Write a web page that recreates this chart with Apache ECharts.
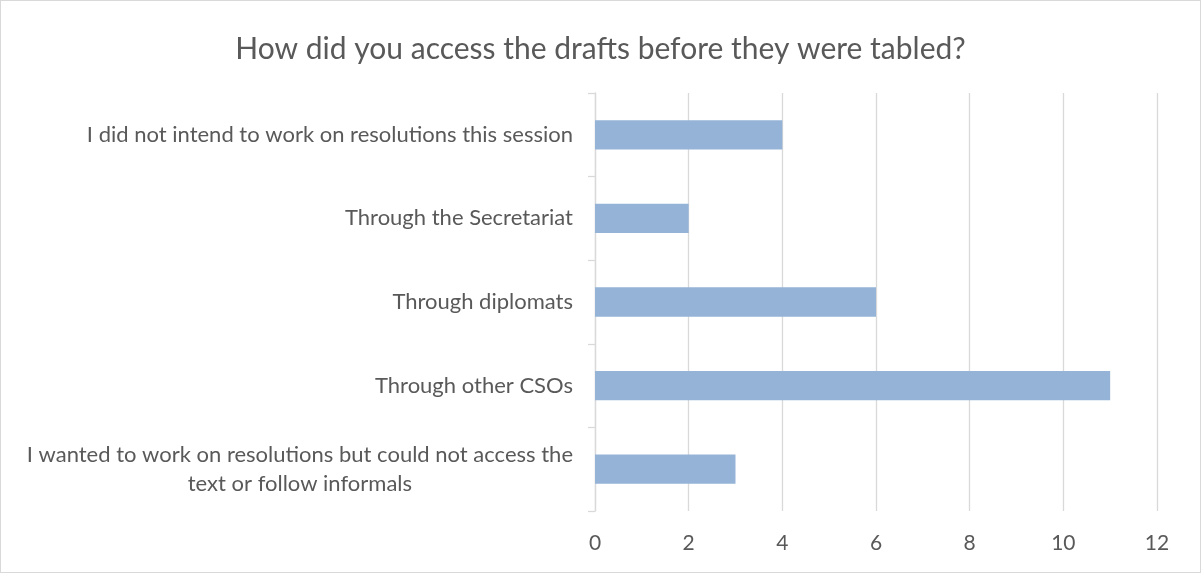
<!DOCTYPE html>
<html><head><meta charset="utf-8">
<script src="https://cdn.jsdelivr.net/npm/echarts@6/dist/echarts.min.js"></script>
<style>html,body{margin:0;padding:0;background:#fff}#c{width:1201px;height:573px;box-sizing:border-box;border:1px solid #d9d9d9}</style>
</head><body><div id="c"></div>
<script>
const title = "How did you access the drafts before they were tabled?";
const categories = [
  "I did not intend to work on resolutions this session",
  "Through the Secretariat",
  "Through diplomats",
  "Through other CSOs",
  "I wanted to work on resolutions but could not access the\ntext or follow informals"
];
const values = [4, 2, 6, 11, 3];
const axisMin = 0, axisMax = 12, axisStep = 2;

const font = "Lato, 'Open Sans', sans-serif";
const chart = echarts.init(document.getElementById('c'), null, {renderer: 'canvas'});
chart.setOption({
  animation: false,
  title: {text: title, left: 'center', top: 28,
    textStyle: {color: '#595959', fontSize: 30, fontWeight: 'normal', fontFamily: font}},
  grid: {left: 594, right: 43, top: 92, bottom: 61, containLabel: false},
  xAxis: {type: 'value', min: axisMin, max: axisMax, interval: axisStep,
    axisLine: {show: false}, axisTick: {show: false},
    splitLine: {lineStyle: {color: '#d9d9d9', width: 1.3}},
    axisLabel: {color: '#595959', fontSize: 21, fontFamily: font, margin: 22}},
  yAxis: {type: 'category', data: categories, inverse: true,
    axisLine: {lineStyle: {color: '#d9d9d9', width: 1.3}},
    axisTick: {show: true, length: 7, lineStyle: {color: '#d9d9d9', width: 1.3}},
    axisLabel: {color: '#595959', fontSize: 22, fontFamily: font, margin: 22, align: 'right', lineHeight: 29,
      formatter: v => v.split('\n').map(s => '{c|' + s + '}').join('\n'),
      rich: {c: {align: 'center', color: '#595959', fontSize: 22, fontFamily: font, lineHeight: 29}}}},
  series: [{type: 'bar', data: values, barWidth: '35%',
    itemStyle: {color: '#95b3d7'}}]
});
</script></body></html>
